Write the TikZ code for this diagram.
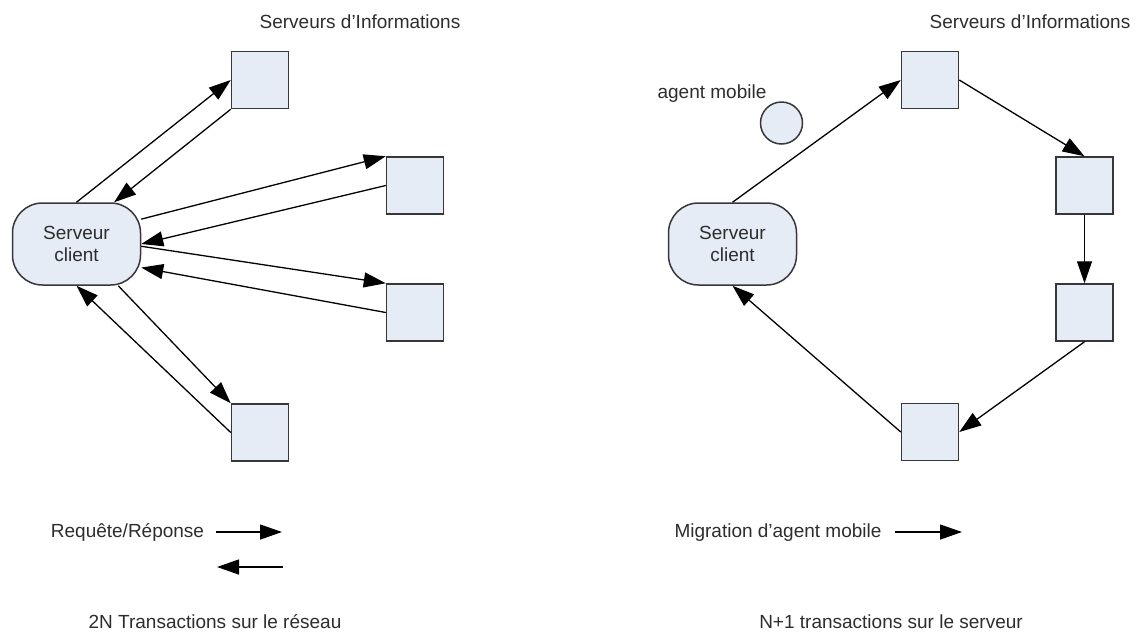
\documentclass[tikz,border=0pt]{standalone}
\usepackage{fontspec}
\setmainfont{Liberation Sans}
\usepackage{xcolor}
\usetikzlibrary{shapes, arrows.meta}
\definecolor{boxfill}{RGB}{230,236,246}
\definecolor{boxline}{RGB}{55,55,55}
\definecolor{txt}{RGB}{45,45,45}
\tikzstyle{line} = [draw=black, line width=1.3pt, -{Triangle[length=22pt,width=15pt]}]
\tikzstyle{srv}=[draw=boxline, line width=1.5pt, fill=boxfill, rectangle, minimum width=57pt, minimum height=57pt, inner sep=0pt]
\tikzstyle{client}=[draw=boxline, line width=1.5pt, fill=boxfill, rectangle, rounded corners=30pt, minimum width=128pt, minimum height=82pt, align=center, text=txt, inner sep=0pt]
\tikzstyle{agent}=[draw=boxline, line width=1.5pt, fill=boxfill, circle, minimum size=42pt, inner sep=0pt]
\tikzstyle{lbl}=[text=txt, anchor=base, inner sep=0pt]

\begin{document}
\begin{tikzpicture}[x=1pt, y=-1pt, font=\fontsize{19}{22}\selectfont]
	\useasboundingbox (0,0) rectangle (1138,633);
	% requete / reponse
		\node[lbl] (titreA) at (360,28) {Serveurs d'Informations};
		\node[client] (cl) at (76.5,244) {Serveur\\client};
		\node[srv] (s1) at (260,80) {};
		\node[srv] (s2) at (415,185.5) {};
		\node[srv] (s3) at (415,312.5) {};
		\node[srv] (s4) at (260,432.5) {};
		\draw[line] (cl.north) -- (s1.west);
		\draw[line] (s1.south west) -- (cl.48);
		\draw[line] (cl.21) -- (s2.north west);
		\draw[line] (s2.west) -- (cl.east);
		\draw[line] (cl.-2) -- (s3.north west);
		\draw[line] (s3.west) -- (cl.-20);
		\draw[line] (cl.-45) -- (s4.north west);
		\draw[line] (s4.west) -- (cl.south);
		\node[lbl] (legA) at (127.5,537) {Requête/Réponse};
		\coordinate (qa) at (216,532);
		\coordinate (qb) at (282,532);
		\coordinate (ra) at (283,567);
		\coordinate (rb) at (217,567);
		\draw[line] (qa) -- (qb);
		\draw[line] (ra) -- (rb);
		\node[lbl] (basA) at (215,628) {2N Transactions sur le réseau};
	%--------------------
	% agent mobile
		\node[lbl] (titreB) at (1030,28) {Serveurs d'Informations};
		\node[lbl] (nomag) at (712,98) {agent mobile};
		\node[agent] (ag) at (781.5,123) {};
		\node[client] (rc) at (732.5,244) {Serveur\\client};
		\node[srv] (A) at (930,80) {};
		\node[srv] (B) at (1084.5,185.5) {};
		\node[srv] (C) at (1084.5,312.5) {};
		\node[srv] (D) at (930,432) {};
		\draw[line] (rc.north) -- (A.west);
		\draw[line] (A.east) -- (B.north);
		\draw[line] (B.south) -- (C.north);
		\draw[line] (C.south) -- (D.east);
		\draw[line] (D.west) -- (rc.south);
		\node[lbl] (legB) at (778,537) {Migration d'agent mobile};
		\coordinate (ma) at (895,532);
		\coordinate (mb) at (962,532);
		\draw[line] (ma) -- (mb);
		\node[lbl] (basB) at (891,628) {N+1 transactions sur le serveur};
\end{tikzpicture}
\end{document}
